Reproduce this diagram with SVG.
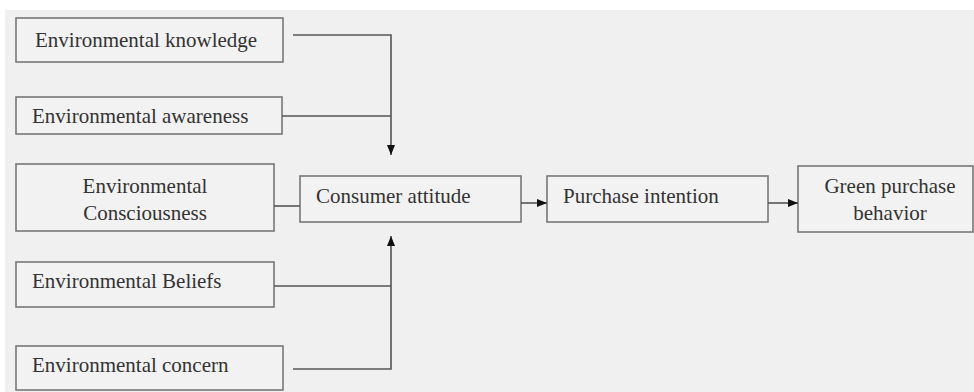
<svg xmlns="http://www.w3.org/2000/svg" width="974" height="392" viewBox="0 0 974 392">
  <defs>
    <marker id="arr" viewBox="0 0 10 10" refX="10" refY="5" markerWidth="10" markerHeight="10" markerUnits="userSpaceOnUse" orient="auto">
      <path d="M0,1 L10,5 L0,9 Z" fill="#111"/>
    </marker>
    <style>
      .box { fill: #f2f2f2; stroke: #777; stroke-width: 1.6; }
      .t { font-family: "Liberation Serif", "Times New Roman", serif; font-size: 21px; fill: #333; }
      .c { text-anchor: middle; }
      .ln { fill: none; stroke: #555; stroke-width: 1.6; }
    </style>
  </defs>
  <rect x="0" y="0" width="974" height="392" fill="#ffffff"/>
  <rect x="5" y="10" width="969" height="382" fill="#f0f0f0"/>

  <g id="env-knowledge">
    <rect class="box" x="16" y="18" width="267" height="44"/>
    <text class="t" x="35" y="47">Environmental knowledge</text>
  </g>
  <g id="env-awareness">
    <rect class="box" x="16" y="97" width="266" height="37"/>
    <text class="t" x="32" y="123">Environmental awareness</text>
  </g>
  <g id="env-consciousness">
    <rect class="box" x="16" y="164" width="258" height="67"/>
    <text class="t c" x="145" y="193">Environmental</text>
    <text class="t c" x="145" y="220">Consciousness</text>
  </g>
  <g id="env-beliefs">
    <rect class="box" x="16" y="262" width="258" height="45"/>
    <text class="t" x="32" y="288">Environmental Beliefs</text>
  </g>
  <g id="env-concern">
    <rect class="box" x="16" y="346" width="267" height="44"/>
    <text class="t" x="32" y="372">Environmental concern</text>
  </g>
  <g id="consumer-attitude">
    <rect class="box" x="300" y="176" width="221" height="46"/>
    <text class="t" x="316" y="203">Consumer attitude</text>
  </g>
  <g id="purchase-intention">
    <rect class="box" x="547" y="176" width="221" height="46"/>
    <text class="t" x="563" y="203">Purchase intention</text>
  </g>
  <g id="green-purchase">
    <rect class="box" x="798" y="166" width="175" height="66"/>
    <text class="t c" x="890" y="193">Green purchase</text>
    <text class="t c" x="890" y="220">behavior</text>
  </g>

  <g id="connectors">
    <path class="ln" d="M293,35 H391 V155" marker-end="url(#arr)"/>
    <path class="ln" d="M282,116 H391"/>
    <path class="ln" d="M274,206 H300"/>
    <path class="ln" d="M274,286 H391"/>
    <path class="ln" d="M293,369 H391 V236" marker-end="url(#arr)"/>
    <path class="ln" d="M521,203 H547" marker-end="url(#arr)"/>
    <path class="ln" d="M768,203 H798" marker-end="url(#arr)"/>
  </g>
</svg>
